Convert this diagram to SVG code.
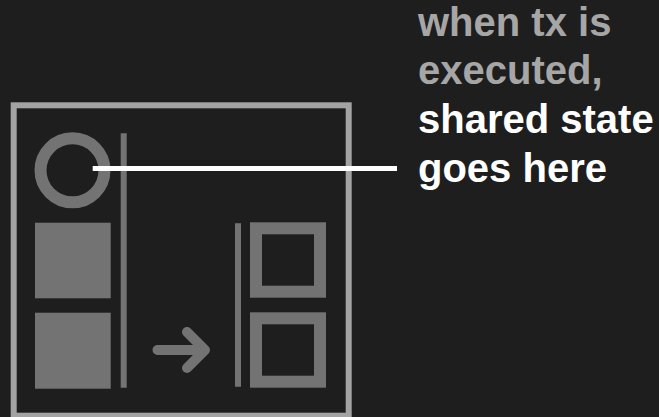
<svg xmlns="http://www.w3.org/2000/svg" width="659" height="417" viewBox="0 0 659 417">
  <defs>
    <style>
      .frame { fill: none; stroke: #a3a3a3; stroke-width: 6; }
      .shape { fill: #737373; }
      .ring { fill: none; stroke: #737373; stroke-width: 12; }
      .bar { stroke: #737373; stroke-width: 6; }
      .arrow { fill: none; stroke: #737373; stroke-width: 10; stroke-linecap: round; stroke-linejoin: round; }
      .lbl { font-family: "Liberation Sans", Arial, Helvetica, sans-serif; font-weight: bold; font-size: 40px; }
      .dim { fill: #a6a6a6; }
      .bright { fill: #ffffff; }
      .pointer { stroke: #ffffff; stroke-width: 5; }
    </style>
  </defs>
  <rect width="659" height="417" fill="#1e1e1e"/>
  <g id="frame">
    <rect class="frame" x="13.7" y="105.3" width="335" height="310.4"/>
  </g>
  <g id="shared-state">
    <circle class="ring" cx="72.5" cy="170.3" r="32"/>
  </g>
  <g id="left-bar">
    <line class="bar" x1="123.7" y1="133.3" x2="123.7" y2="387.7"/>
  </g>
  <g id="filled-square-1">
    <rect class="shape" x="35" y="222.7" width="75.7" height="75.6"/>
  </g>
  <g id="filled-square-2">
    <rect class="shape" x="35" y="312.7" width="75.7" height="76"/>
  </g>
  <g id="arrow">
    <path class="arrow" d="M157.5 350 H203.5 M187 332 L205 350 L187 368"/>
  </g>
  <g id="right-bar">
    <line class="bar" x1="238" y1="223.3" x2="238" y2="386.7"/>
  </g>
  <g id="outline-square-1">
    <rect class="ring" x="256" y="228.3" width="64" height="63.4"/>
  </g>
  <g id="outline-square-2">
    <rect class="ring" x="256" y="318.3" width="64" height="63.4"/>
  </g>
  <g id="connectors">
    <line class="pointer" x1="92.7" y1="168.5" x2="397" y2="168.5"/>
  </g>
  <g id="label">
    <text class="lbl dim" x="418" y="35.5">when tx is</text>
    <text class="lbl dim" x="418" y="84">executed,</text>
    <text class="lbl bright" x="418" y="133">shared state</text>
    <text class="lbl bright" x="418" y="182">goes here</text>
  </g>
</svg>
